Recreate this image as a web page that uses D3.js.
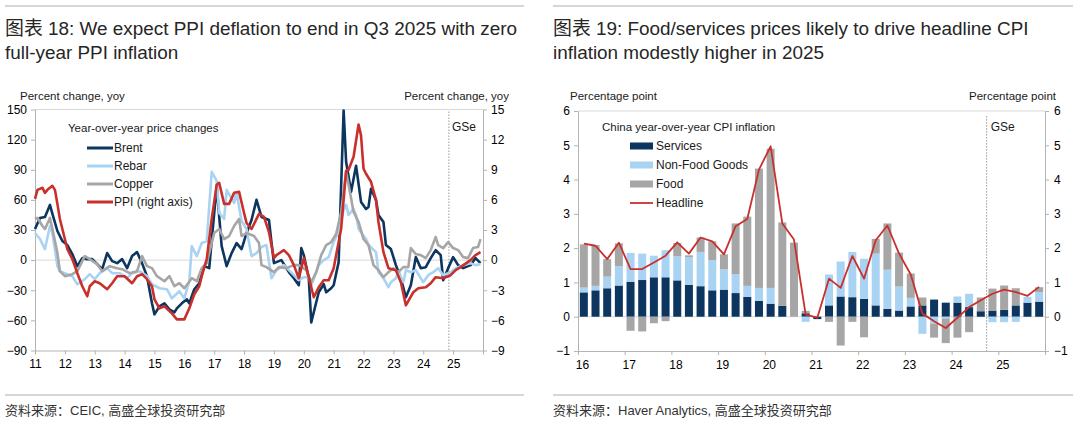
<!DOCTYPE html>
<html><head><meta charset="utf-8">
<script src="https://cdn.jsdelivr.net/npm/d3@7"></script>
<style>
body{margin:0;background:#fff;}
svg{display:block;font-family:"Liberation Sans",Arial,"Noto Sans CJK SC",sans-serif;}
</style></head><body>
<svg id="c" width="1080" height="429"></svg>
<script>
// ================= DATA: left chart (months since Jan 2011) =================
const yearLabelsL = ["11","12","13","14","15","16","17","18","19","20","21","22","23","24","25"];
const leftTicks = [-90,-60,-30,0,30,60,90,120,150];
const rightTicks = [-9,-6,-3,0,3,6,9,12,15];
const forecastMonthL = 166.3;

const brentMonth = [0,2,4,6,7,9,11,13,15,17,19,21,23,25,27,29,31,33,35,37,39,41,43,45,47,48,50,52,54,56,57,59,61,62,64,66,68,70,73,75,77,79,81,83,85,87,89,91,94,95,96,99,102,104,106,107,108,110,111,113,114,116,117,119,120,122,124,125,127,129,131,133,134,135,137,138,140,141,143,145,147,149,151,153,155,157,159,161,163,164,166,168,170,172,175,177,179];
const brentValue = [31,42,43,55,46,29,19,15,6,-6,2,1,1,-4,-9,7,-1,-3,1,-8,4,8,-3,-16,-43,-54,-46,-43,-49,-52,-48,-43,-39,-43,-29,-23,-6,-8,74,14,-6,7,17,11,27,40,60,43,40,18,-3,0,-12,-18,-25,12,5,-18,-62,-42,-32,-24,-32,-28,-25,-2,149,98,68,94,58,51,53,71,60,45,38,15,11,-5,-18,-37,-25,3,-8,-7,2,10,5,-20,-8,3,-5,-8,-5,2,-3];

const rebarMonth = [0,2,4,6,7,9,10,13,15,17,20,22,24,26,29,31,34,37,39,42,45,47,50,53,55,58,60,62,63,65,67,69,71,73,74,76,77,80,81,83,85,87,89,91,93,95,97,100,102,104,106,108,110,111,113,114,116,118,120,122,124,125,126,128,129,130,133,134,137,138,140,142,143,145,146,148,149,151,153,156,158,160,162,164,167,169,172,175,177,179];
const rebarValue = [27,21,11,34,27,-6,-11,-14,-16,-24,-19,-14,-19,-13,-8,-13,-13,-18,-13,-11,-16,-24,-28,-29,-38,-31,-38,-21,14,4,17,19,88,79,47,41,70,57,67,39,31,4,7,13,15,-18,-10,-5,-10,-15,-20,-17,-17,-25,-12,-5,0,3,18,28,50,55,45,51,45,31,21,15,8,-12,-18,-27,-22,-18,-12,-22,-10,-12,-10,-22,-15,-12,-8,-15,-12,-8,-5,-3,-5,-4];

const copperMonth = [0,1,3,4,6,7,9,10,12,15,17,20,22,25,27,30,33,35,38,41,43,45,47,49,52,54,56,58,60,63,65,67,69,72,74,76,78,80,82,83,85,88,90,91,93,96,98,101,104,106,109,111,113,115,117,119,121,123,125,126,128,130,132,134,136,138,140,142,144,146,148,150,151,153,155,157,159,161,162,164,166,168,170,172,174,176,178,179];
const copperValue = [41,42,34,31,42,31,7,-11,-16,-14,-11,4,1,-4,-11,-6,-8,-9,-13,-11,4,-6,-8,-16,-21,-16,-26,-23,-28,-18,-21,-8,-3,27,31,21,24,34,41,24,27,24,17,-5,-7,-12,-7,-8,-5,-5,-10,-22,-12,5,15,18,26,48,88,75,48,38,21,15,-5,-10,-17,-12,-8,-12,-7,-7,12,6,5,2,10,23,15,12,18,12,10,3,2,12,13,21];

const ppiMonth = [0,1,3,4,5,7,8,9,10,12,13,15,17,19,21,22,24,26,29,31,33,36,39,41,43,45,47,48,50,52,55,57,60,62,64,66,67,69,71,73,74,76,78,80,82,84,85,87,90,92,94,96,97,100,102,104,106,108,110,112,114,116,118,120,123,125,126,128,130,131,132,133,135,137,138,140,142,145,147,149,152,154,157,159,161,164,167,169,171,175,177,179];
const ppiValue = [6.1,7.0,7.2,6.7,7.0,7.4,7.0,5.6,4.1,2.1,1.1,0.1,-1.3,-2.6,-3.6,-2.6,-2.1,-2.3,-2.9,-2.3,-1.6,-1.6,-2.3,-1.6,-1.4,-1.9,-2.6,-3.9,-4.8,-4.6,-5.3,-5.9,-5.9,-4.8,-3.4,-2.6,-1.6,0.1,4.1,7.5,7.7,5.6,5.6,6.7,6.8,4.7,3.7,3.1,4.6,4.3,2.8,0.2,0.5,1.0,0.5,-0.5,-1.8,0.2,-1.7,-3.7,-2.7,-2.0,-2.0,-0.8,3.1,8.9,9.0,10.3,13.5,12.4,9.1,8.6,7.8,6.0,3.8,0.8,-0.8,-1.0,-2.2,-4.5,-3.2,-2.8,-2.7,-2.3,-1.7,-1.8,-1.5,-1.0,-0.7,0.0,0.5,0.8];

// ================= DATA: right chart (quarters 2016Q1 - 2025Q4) =================
const yearLabelsR = ["16","17","18","19","20","21","22","23","24","25"];
const cpiTicks = [-1,0,1,2,3,4,5,6];
const forecastQuarterR = 35;
const cpiQuarters = ["16Q1","16Q2","16Q3","16Q4","17Q1","17Q2","17Q3","17Q4","18Q1","18Q2","18Q3","18Q4","19Q1","19Q2","19Q3","19Q4","20Q1","20Q2","20Q3","20Q4","21Q1","21Q2","21Q3","21Q4","22Q1","22Q2","22Q3","22Q4","23Q1","23Q2","23Q3","23Q4","24Q1","24Q2","24Q3","24Q4","25Q1","25Q2","25Q3","25Q4"];
const servicesValue = [0.71,0.77,0.83,0.91,1.02,1.07,1.15,1.15,1.06,0.93,0.89,0.77,0.79,0.69,0.58,0.46,0.38,0.32,0,0.10,-0.07,0.33,0.59,0.57,0.52,0.33,0.23,0.18,0.30,0.33,0.50,0.41,0.41,0.28,0.16,0.18,0.20,0.33,0.41,0.44];
const nonFoodValue = [0.14,0.13,0.34,0.56,0.84,0.77,0.63,0.79,0.70,0.81,1.00,0.88,0.59,0.55,0.32,0.38,0.46,0,0,-0.15,0,0.90,1.02,1.32,1.17,1.51,1.14,0.70,0.25,-0.50,-0.20,-0.05,0.18,0.39,0,-0.16,-0.16,-0.15,0.17,0.28];
const foodValue = [1.26,1.19,0.51,0.67,-0.41,-0.43,-0.19,-0.13,0.39,0.05,0.42,0.55,0.44,1.48,2.02,3.48,4.06,2.43,2.16,0.07,0,-0.15,-0.84,-0.15,-0.60,0.43,1.35,0.99,0.71,0.23,-0.41,-0.72,-0.61,-0.45,0.40,0.64,0.71,0.50,0,0.14];
const headlineValue = [2.13,2.07,1.68,2.16,1.39,1.39,1.58,1.78,2.17,1.84,2.31,2.20,1.82,2.64,2.85,4.29,4.97,2.72,2.25,0.06,-0.03,1.11,0.84,1.77,1.11,2.23,2.66,1.84,1.23,0.09,-0.13,-0.33,-0.03,0.28,0.48,0.67,0.79,0.72,0.61,0.87];

// ================= DRAWING =================
const svg = d3.select("#c");
const C = {navy:"#0c355f", light:"#a9d3f2", gray:"#a6a6a6", red:"#c9302c", axis:"#b3b3b3", grid:"#d9d9d9", text:"#1a1a1a"};

function title(x, lines){
  lines.forEach((t,i)=> svg.append("text").attr("x",x).attr("y",35+i*24).attr("font-size",18.9).attr("fill","#262626").text(t));
}
function rule(x1,x2,y){ svg.append("line").attr("x1",x1).attr("x2",x2).attr("y1",y).attr("y2",y).attr("stroke","#c8c8c8").attr("stroke-width",1.5); }
function styleAxis(g){
  g.select(".domain").attr("stroke",C.axis);
  g.selectAll(".tick line").attr("stroke",C.axis);
  g.selectAll(".tick text").attr("fill","#000").attr("font-size",12).attr("font-family",'"Liberation Sans",Arial,sans-serif');
}

// ---------- headers & footers ----------
rule(5,524,6); rule(553,1073,6);
title(5,["图表 18: We expect PPI deflation to end in Q3 2025 with zero","full-year PPI inflation"]);
title(553,["图表 19: Food/services prices likely to drive headline CPI","inflation modestly higher in 2025"]);
rule(5,524,395); rule(553,1073,395);
svg.append("text").attr("x",5).attr("y",415).attr("font-size",13).attr("fill","#333").text("资料来源：CEIC, 高盛全球投资研究部");
svg.append("text").attr("x",553).attr("y",415).attr("font-size",13).attr("fill","#333").text("资料来源：Haver Analytics, 高盛全球投资研究部");

// ---------- LEFT CHART ----------
const xL = d3.scaleLinear().domain([0,180]).range([35,483]);
const yL = d3.scaleLinear().domain([-90,150]).range([350.5,109.5]);
const yR = d3.scaleLinear().domain([-9,15]).range([350.5,109.5]);

const gL = svg.append("g");
gL.append("line").attr("x1",xL(0)).attr("x2",xL(180)).attr("y1",yL(150)).attr("y2",yL(150)).attr("stroke",C.grid);
gL.append("line").attr("x1",xL(0)).attr("x2",xL(180)).attr("y1",yL(0)).attr("y2",yL(0)).attr("stroke",C.grid);
gL.append("line").attr("x1",xL(forecastMonthL)).attr("x2",xL(forecastMonthL)).attr("y1",yL(148)).attr("y2",yL(-90))
  .attr("stroke","#999").attr("stroke-dasharray","1.5,1.5");
gL.append("text").attr("x",xL(forecastMonthL)+3).attr("y",131).attr("font-size",12).attr("fill",C.text).text("GSe");

const fmt = d3.format("d");
const axL = gL.append("g").attr("transform",`translate(${xL(0)},0)`)
  .call(d3.axisLeft(yL).tickValues(leftTicks).tickFormat(fmt).tickSize(4).tickSizeOuter(0).tickPadding(4));
styleAxis(axL);
const axR = gL.append("g").attr("transform",`translate(${xL(180)},0)`)
  .call(d3.axisRight(yR).tickValues(rightTicks).tickFormat(fmt).tickSize(4).tickSizeOuter(0).tickPadding(4));
styleAxis(axR);
const axB = gL.append("g").attr("transform",`translate(0,${yL(-90)})`)
  .call(d3.axisBottom(xL).tickValues(d3.range(0,181,12)).tickSize(4).tickSizeOuter(0).tickPadding(5)
    .tickFormat((d,i)=> yearLabelsL[i] || ""));
styleAxis(axB);

gL.append("text").attr("x",20).attr("y",100).attr("font-size",11.5).attr("fill",C.text).text("Percent change, yoy");
gL.append("text").attr("x",509).attr("y",100).attr("text-anchor","end").attr("font-size",11.5).attr("fill",C.text).text("Percent change, yoy");

const lineL = d3.line().x(d=>xL(d[0])).y(d=>d[2](d[1]));
const seriesL = [
  {name:"Brent", color:C.navy, m:brentMonth, v:brentValue, y:yL},
  {name:"Rebar", color:C.light, m:rebarMonth, v:rebarValue, y:yL},
  {name:"Copper", color:C.gray, m:copperMonth, v:copperValue, y:yL},
  {name:"PPI (right axis)", color:C.red, m:ppiMonth, v:ppiValue, y:yR}
];
seriesL.forEach(s=>{
  gL.append("path").datum(s.m.map((m,i)=>[m,s.v[i],s.y]))
    .attr("d",lineL).attr("fill","none").attr("stroke",s.color).attr("stroke-width",2.6).attr("stroke-linejoin","round");
});
// legend
gL.append("text").attr("x",68).attr("y",132).attr("font-size",11.5).attr("fill",C.text).text("Year-over-year price changes");
seriesL.forEach((s,i)=>{
  const y = 148 + i*18;
  gL.append("line").attr("x1",87).attr("x2",113).attr("y1",y).attr("y2",y).attr("stroke",s.color).attr("stroke-width",3);
  gL.append("text").attr("x",114).attr("y",y+4.3).attr("font-size",12).attr("fill",C.text).text(s.name);
});

// ---------- RIGHT CHART ----------
const xQ = d3.scaleLinear().domain([0,40]).range([578,1045]);
const yC = d3.scaleLinear().domain([-1,6]).range([351,111]);
const gR = svg.append("g");
gR.append("line").attr("x1",xQ(0)).attr("x2",xQ(40)).attr("y1",yC(6)).attr("y2",yC(6)).attr("stroke",C.grid);
gR.append("line").attr("x1",xQ(0)).attr("x2",xQ(40)).attr("y1",yC(0)).attr("y2",yC(0)).attr("stroke",C.grid);

const rows = cpiQuarters.map((q,i)=>({q, i, services:servicesValue[i], nonfood:nonFoodValue[i], food:foodValue[i]}));
const stack = d3.stack().keys(["services","nonfood","food"]).offset(d3.stackOffsetDiverging)(rows);
const barColor = {services:C.navy, nonfood:C.light, food:C.gray};
const bw = 8;
stack.forEach(layer=>{
  gR.append("g").selectAll("rect").data(layer).join("rect")
    .attr("x",d=>xQ(d.data.i+0.5)-bw/2).attr("width",bw)
    .attr("y",d=>yC(Math.max(d[0],d[1]))).attr("height",d=>Math.abs(yC(d[0])-yC(d[1])))
    .attr("fill",barColor[layer.key]);
});
gR.append("line").attr("x1",xQ(forecastQuarterR)).attr("x2",xQ(forecastQuarterR)).attr("y1",yC(5.85)).attr("y2",yC(-1))
  .attr("stroke","#999").attr("stroke-dasharray","1.5,1.5");
gR.append("text").attr("x",xQ(forecastQuarterR)+4).attr("y",131).attr("font-size",12).attr("fill",C.text).text("GSe");

gR.append("path").datum(headlineValue)
  .attr("d",d3.line().x((d,i)=>xQ(i+0.5)).y(d=>yC(d)))
  .attr("fill","none").attr("stroke",C.red).attr("stroke-width",1.8).attr("stroke-linejoin","round");

const axCL = gR.append("g").attr("transform",`translate(${xQ(0)},0)`)
  .call(d3.axisLeft(yC).tickValues(cpiTicks).tickFormat(fmt).tickSize(4).tickSizeOuter(0).tickPadding(4));
styleAxis(axCL);
const axCR = gR.append("g").attr("transform",`translate(${xQ(40)},0)`)
  .call(d3.axisRight(yC).tickValues(cpiTicks).tickFormat(fmt).tickSize(4).tickSizeOuter(0).tickPadding(5));
styleAxis(axCR);
const axCB = gR.append("g").attr("transform",`translate(0,${yC(-1)})`)
  .call(d3.axisBottom(xQ).tickValues(d3.range(0,41,4)).tickSize(4).tickSizeOuter(0).tickPadding(5)
    .tickFormat((d,i)=> yearLabelsR[i] || ""));
styleAxis(axCB);
axCB.selectAll(".tick text").attr("dx",4);

gR.append("text").attr("x",570).attr("y",100).attr("font-size",11.5).attr("fill",C.text).text("Percentage point");
gR.append("text").attr("x",1056).attr("y",100).attr("text-anchor","end").attr("font-size",11.5).attr("fill",C.text).text("Percentage point");

gR.append("text").attr("x",602).attr("y",131).attr("font-size",11.5).attr("fill",C.text).text("China year-over-year CPI inflation");
const legR = [["Services",C.navy,"rect"],["Non-Food Goods",C.light,"rect"],["Food",C.gray,"rect"],["Headline",C.red,"line"]];
legR.forEach((e,i)=>{
  const y = 146 + i*19;
  if(e[2]==="rect") gR.append("rect").attr("x",630).attr("y",y-3.5).attr("width",23).attr("height",7).attr("fill",e[1]);
  else gR.append("line").attr("x1",630).attr("x2",653).attr("y1",y).attr("y2",y).attr("stroke",e[1]).attr("stroke-width",1.8);
  gR.append("text").attr("x",656).attr("y",y+4.3).attr("font-size",12).attr("fill",C.text).text(e[0]);
});
</script>
</body></html>
